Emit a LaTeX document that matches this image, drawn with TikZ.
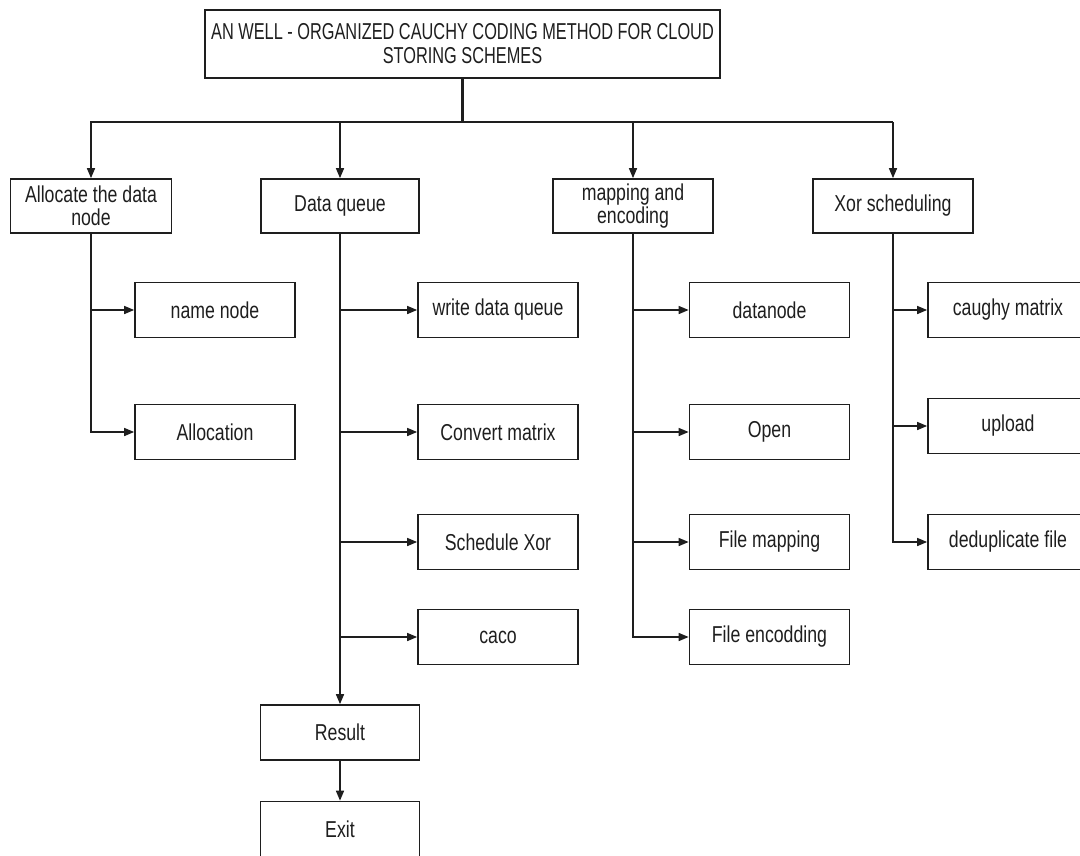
\documentclass[tikz,border=0pt]{standalone}
\usepackage{fontspec}
\setmainfont{Liberation Sans}[FakeStretch=0.77]
\newfontfamily\headfont{Liberation Sans}[FakeStretch=0.71]
\usetikzlibrary{arrows.meta}
\definecolor{ink}{HTML}{1E1E1E}
\begin{document}
\begin{tikzpicture}[x=1pt,y=-1pt,
  every node/.style={font=\fontsize{23}{23}\selectfont, text=ink},
  box/.style={draw=ink, line width=1.7pt, rectangle, inner sep=0pt,
    minimum width=160pt, minimum height=55pt, align=center},
  headbox/.style={box, minimum width=515pt, minimum height=68pt,
    font=\headfont\fontsize{23}{24}\selectfont},
  link/.style={draw=ink, line width=1.5pt},
  arr/.style={link, -{Triangle[length=10pt,width=8pt]}},
  stem/.style={draw=ink, line width=2.6pt}]
\useasboundingbox (0,0) rectangle (1080,855);
\clip (0,0) rectangle (1080,855);

% title
\node[headbox] (title) at (462.5,44) {AN WELL - ORGANIZED CAUCHY CODING METHOD FOR CLOUD\\STORING SCHEMES};

% first level
\node[box, minimum width=161pt, minimum height=54pt] (alloc) at (91,206) {Allocate the data\\node};
\node[box, minimum width=158pt, minimum height=54pt] (dq) at (340,206) {Data queue};
\node[box, minimum width=160pt, minimum height=54pt] (map) at (633,206) {mapping and\\encoding};
\node[box, minimum width=160pt, minimum height=54pt] (xor) at (893,206) {Xor scheduling};

% column 1
\node[box] (namenode) at (215,310) {name node};
\node[box] (allocation) at (215,432) {Allocation};

% column 2
\node[box] (writeq) at (498,310) {write data queue};
\node[box] (convert) at (498,432) {Convert matrix};
\node[box] (schedxor) at (498,542) {Schedule Xor};
\node[box] (caco) at (498,637) {caco};
\node[box, minimum width=159pt] (result) at (340,732.5) {Result};
\node[box, minimum width=159pt] (exit) at (340,829) {Exit};

% column 3
\node[box] (datanode) at (769.5,310) {datanode};
\node[box] (open) at (769.5,432) {Open};
\node[box] (filemap) at (769.5,542) {File mapping};
\node[box] (fileenc) at (769.5,637) {File encodding};

% column 4
\node[box] (caughy) at (1008,310) {caughy matrix};
\node[box] (upload) at (1008,426) {upload};
\node[box] (dedup) at (1008,542) {deduplicate file};

% distribution bus
\coordinate (busL) at (90,122);
\coordinate (busR) at (893,122);
\draw[stem] (title.south) -- (title.south |- busL);
\draw[link] (busL) -- (busR);
\draw[arr] (alloc.north |- busL) -- (alloc.north);
\draw[arr] (dq.north |- busL) -- (dq.north);
\draw[arr] (map.north |- busL) -- (map.north);
\draw[arr] (xor.north |- busL) -- (xor.north);

% column 1 branches
\draw[arr] (alloc.south) |- (allocation.west);
\draw[arr] (alloc.south |- namenode.west) -- (namenode.west);

% column 2 branches
\draw[arr] (dq.south) -- (result.north);
\draw[arr] (dq.south |- writeq.west) -- (writeq.west);
\draw[arr] (dq.south |- convert.west) -- (convert.west);
\draw[arr] (dq.south |- schedxor.west) -- (schedxor.west);
\draw[arr] (dq.south |- caco.west) -- (caco.west);
\draw[arr] (result.south) -- (exit.north);

% column 3 branches
\draw[arr] (map.south) |- (fileenc.west);
\draw[arr] (map.south |- datanode.west) -- (datanode.west);
\draw[arr] (map.south |- open.west) -- (open.west);
\draw[arr] (map.south |- filemap.west) -- (filemap.west);

% column 4 branches
\draw[arr] (xor.south) |- (dedup.west);
\draw[arr] (xor.south |- caughy.west) -- (caughy.west);
\draw[arr] (xor.south |- upload.west) -- (upload.west);
\end{tikzpicture}
\end{document}
